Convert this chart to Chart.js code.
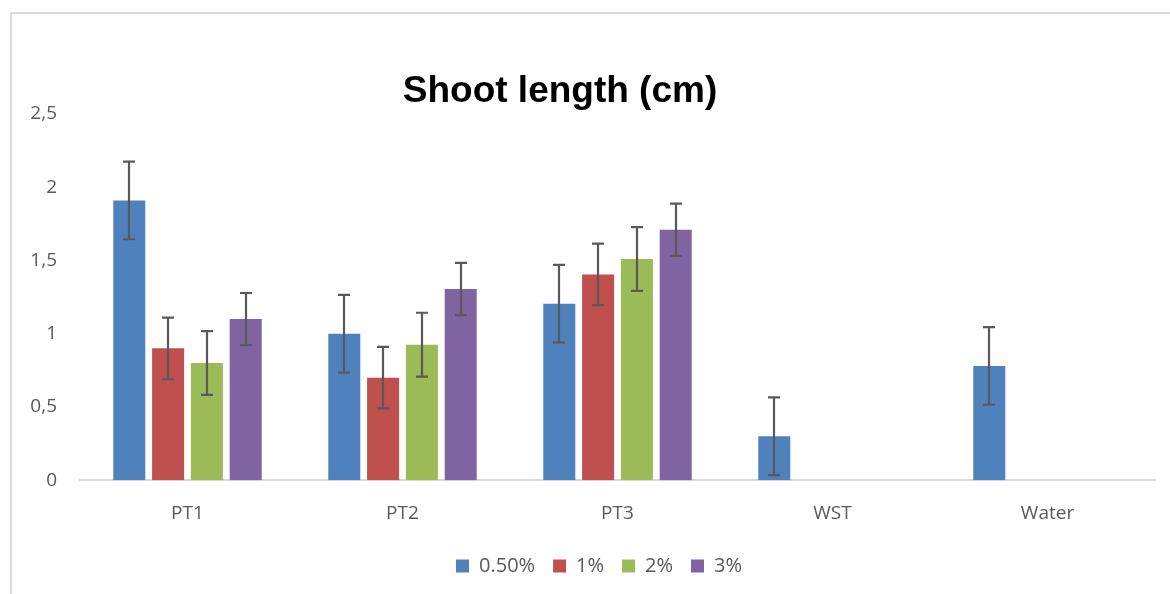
<!DOCTYPE html>
<html>
<head>
<meta charset="utf-8">
<script src="https://cdn.jsdelivr.net/npm/chart.js@4.4.1/dist/chart.umd.min.js"></script>
<style>
  html, body { margin: 0; padding: 0; background: #fff; }
  #wrap { position: relative; width: 1170px; height: 594px; overflow: hidden; }
  #frame { position: absolute; left: 10px; top: 12px; width: 1200px; height: 700px;
           border-left: 2px solid #d9d9d9; border-top: 2px solid #d9d9d9; box-sizing: border-box; }
  canvas { position: absolute; left: 0; top: 0; }
</style>
</head>
<body>
<div id="wrap">
  <div id="frame"></div>
  <canvas id="c" width="1170" height="594"></canvas>
</div>
<script>
const categories = ["PT1", "PT2", "PT3", "WST", "Water"];
const seriesNames = ["0.50%", "1%", "2%", "3%"];
const s050 = [1.91, 1.00, 1.205, 0.30, 0.78];
const s1   = [0.90, 0.70, 1.405, null, null];
const s2   = [0.80, 0.925, 1.51, null, null];
const s3   = [1.10, 1.305, 1.71, null, null];
const e050 = [0.265, 0.265, 0.265, 0.265, 0.265];
const e1   = [0.21, 0.21, 0.21, null, null];
const e2   = [0.218, 0.218, 0.218, null, null];
const e3   = [0.178, 0.178, 0.178, null, null];
const yTicks = [0, 0.5, 1, 1.5, 2, 2.5];
const titleText = "Shoot length (cm)";

const colors = ["#4F81BD", "#C0504D", "#9BBB59", "#8064A2"];
const values = [s050, s1, s2, s3];
const errors = [e050, e1, e2, e3];
const FONT = "'Open Sans', 'DejaVu Sans', sans-serif";

const errorBars = {
  id: 'errorBars',
  afterDatasetsDraw(chart) {
    const ctx = chart.ctx, y = chart.scales.y;
    ctx.save();
    ctx.strokeStyle = '#595959';
    ctx.lineWidth = 2.2;
    chart.data.datasets.forEach((ds, di) => {
      const meta = chart.getDatasetMeta(di);
      meta.data.forEach((bar, i) => {
        const v = ds.data[i], e = errors[di][i];
        if (v == null || e == null) return;
        const yt = y.getPixelForValue(v + e), yb = y.getPixelForValue(v - e);
        const x = Math.round(bar.x);
        ctx.beginPath();
        ctx.moveTo(x, yt); ctx.lineTo(x, yb);
        ctx.moveTo(x - 6, yt); ctx.lineTo(x + 6, yt);
        ctx.moveTo(x - 6, yb); ctx.lineTo(x + 6, yb);
        ctx.stroke();
      });
    });
    ctx.restore();
  }
};

const titlePlugin = {
  id: 'titleText',
  afterDraw(chart) {
    const ctx = chart.ctx;
    ctx.save();
    ctx.font = "bold 37px 'Liberation Sans', Arial, sans-serif";
    ctx.fillStyle = '#000';
    ctx.textAlign = 'center';
    ctx.textBaseline = 'middle';
    ctx.fillText(titleText, 560, 92);
    ctx.restore();
  }
};

const legendShift = {
  id: 'legendShift',
  afterLayout(chart) {
    if (chart.legend) { chart.legend.left += 14; chart.legend.right += 14; }
  }
};

new Chart(document.getElementById('c'), {
  type: 'bar',
  data: {
    labels: categories,
    datasets: seriesNames.map((n, i) => ({
      label: n,
      data: values[i],
      backgroundColor: colors[i],
      borderWidth: 0,
      barPercentage: 0.825,
      categoryPercentage: 0.722
    }))
  },
  options: {
    responsive: false,
    animation: false,
    devicePixelRatio: 1,
    layout: { padding: { left: 15, right: 15, top: 114, bottom: 8 } },
    plugins: {
      title: { display: false },
      tooltip: { enabled: false },
      legend: {
        position: 'bottom',
        labels: {
          boxWidth: 13, boxHeight: 13, padding: 18,
          color: '#595959',
          font: { family: FONT, size: 20 }
        }
      }
    },
    scales: {
      x: {
        afterFit(s) { s.height = s.height - 9; },
        grid: { display: false, drawTicks: false },
        border: { display: true, color: '#d9d9d9', width: 2 },
        ticks: { color: '#595959', font: { family: FONT, size: 19 }, padding: 22 }
      },
      y: {
        min: 0, max: 2.5,
        afterBuildTicks(s) { s.ticks = yTicks.map(v => ({ value: v })); },
        afterFit(s) { s.width = 65; },
        grid: { display: false, drawTicks: false },
        border: { display: false },
        ticks: {
          color: '#595959', font: { family: FONT, size: 19 }, padding: 23,
          callback: v => String(v).replace('.', ',')
        }
      }
    }
  },
  plugins: [errorBars, titlePlugin, legendShift]
});
</script>
</body>
</html>
